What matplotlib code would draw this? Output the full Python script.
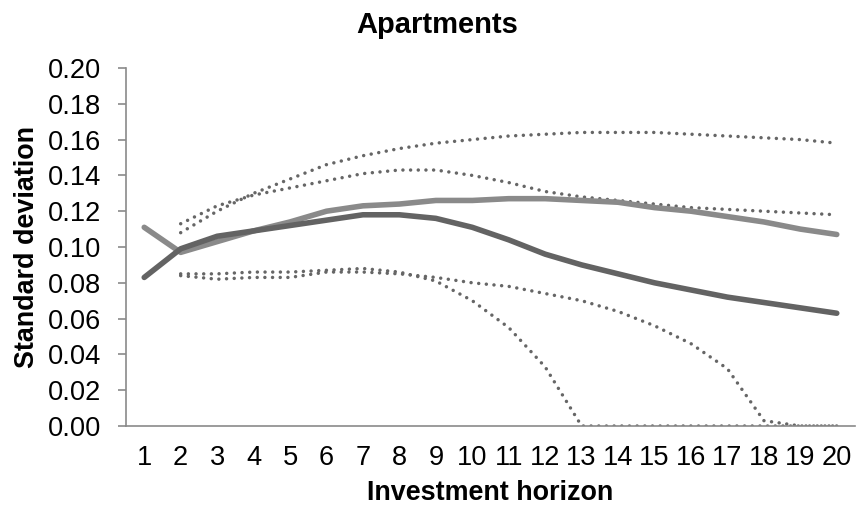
import matplotlib
matplotlib.use("Agg")
import matplotlib.pyplot as plt

plt.rcParams['font.family'] = ['Liberation Sans', 'DejaVu Sans']

# investment horizon in years
horizon = list(range(1, 21))
horizon_ci = list(range(2, 21))

# standard deviation estimates for apartments
sd_light = [0.111, 0.097, 0.103, 0.109, 0.114, 0.120, 0.123, 0.124, 0.126, 0.126,
            0.127, 0.127, 0.126, 0.125, 0.122, 0.120, 0.117, 0.114, 0.110, 0.107]
sd_dark = [0.083, 0.099, 0.106, 0.109, 0.112, 0.115, 0.118, 0.118, 0.116, 0.111,
           0.104, 0.096, 0.090, 0.085, 0.080, 0.076, 0.072, 0.069, 0.066, 0.063]

# confidence bands (from horizon 2 on)
upper_a = [0.108, 0.120, 0.130, 0.138, 0.146, 0.151, 0.155, 0.158, 0.160, 0.162,
           0.163, 0.164, 0.164, 0.164, 0.163, 0.162, 0.161, 0.160, 0.158]
upper_b = [0.113, 0.123, 0.129, 0.133, 0.137, 0.141, 0.143, 0.143, 0.140, 0.136,
           0.131, 0.128, 0.126, 0.124, 0.122, 0.121, 0.120, 0.119, 0.118]
lower_a = [0.085, 0.085, 0.086, 0.086, 0.087, 0.088, 0.086, 0.081, 0.070, 0.055,
           0.033, 0.0, 0.0, 0.0, 0.0, 0.0, 0.0, 0.0, 0.0]
lower_b = [0.084, 0.082, 0.083, 0.083, 0.086, 0.086, 0.085, 0.083, 0.080, 0.078,
           0.074, 0.070, 0.064, 0.056, 0.046, 0.032, 0.003, 0.0, 0.0]

yticks = [0.00, 0.02, 0.04, 0.06, 0.08, 0.10, 0.12, 0.14, 0.16, 0.18, 0.20]

fig = plt.figure(figsize=(8.68, 5.07), dpi=100)
ax = fig.add_axes([126 / 868, 1 - 426 / 507, 729 / 868, 358 / 507])

dot = dict(color='#666666', lw=2.5, linestyle=(0, (0.01, 2.2)), dash_capstyle='round')
for band in (upper_a, upper_b, lower_a, lower_b):
    ax.plot(horizon_ci, band, **dot)

ax.plot(horizon, sd_light, color='#8a8a8a', lw=4, solid_capstyle='round')
ax.plot(horizon, sd_dark, color='#636363', lw=4, solid_capstyle='round')

ax.set_xlim(0.5, 20.5)
ax.set_ylim(0, 0.2)
ax.set_xticks(horizon)
ax.set_yticks(yticks)
ax.set_yticklabels(['%.2f' % v for v in yticks])

for side in ('top', 'right'):
    ax.spines[side].set_visible(False)
for side in ('left', 'bottom'):
    ax.spines[side].set_color('#8a8a8a')
    ax.spines[side].set_linewidth(1.2)

ax.tick_params(axis='y', length=6, width=1.2, color='#8a8a8a', labelsize=19.6, pad=12)
ax.tick_params(axis='x', length=0, labelsize=19.6, pad=14)

fig.text(437 / 868, 1 - 25 / 507, 'Apartments', fontsize=21, fontweight='bold',
         ha='center', va='center')
fig.text(490 / 868, 1 - 493 / 507, 'Investment horizon', fontsize=19.4, fontweight='bold',
         ha='center', va='center')
fig.text(27 / 868, 1 - 247 / 507, 'Standard deviation', fontsize=19.4, fontweight='bold',
         ha='center', va='center', rotation=90)

fig.savefig('out.png', dpi=100)
